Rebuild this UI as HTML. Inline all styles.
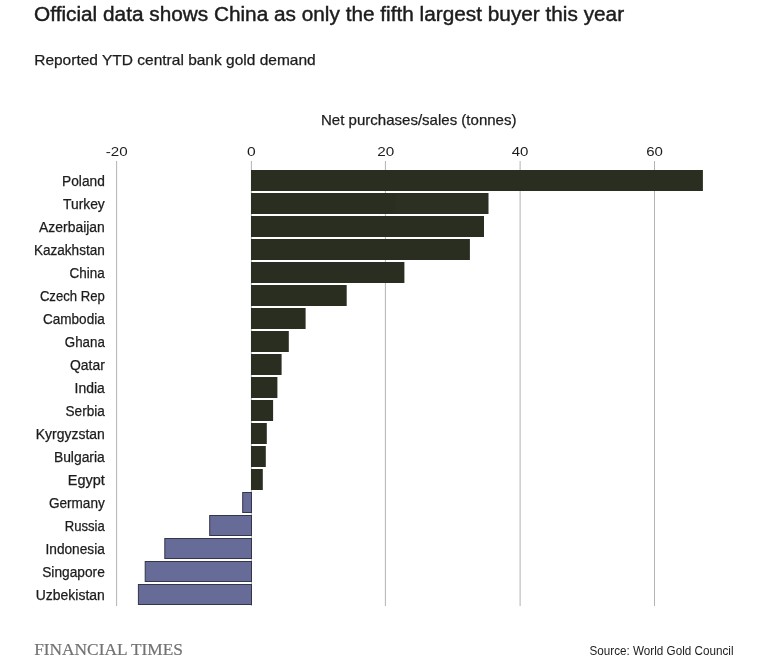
<!DOCTYPE html>
<html lang="en"><head><meta charset="utf-8"><title>Official data shows China as only the fifth largest buyer this year</title>
<style>
html,body{margin:0;padding:0;background:#fff;}
body{width:773px;height:664px;overflow:hidden;}
svg{display:block;font-family:"Liberation Sans",Arial,sans-serif;}
text.b{fill:#1c1c1c;stroke:#1c1c1c;stroke-width:0.25px;}
text.t{fill:#1c1c1c;stroke:none;}
.serif{font-family:"Liberation Serif","Times New Roman",serif;}
</style></head><body>
<svg width="773" height="664" viewBox="0 0 773 664">
<rect x="0" y="0" width="773" height="664" fill="#ffffff"/>
<text x="34.1" y="20.7" font-size="19.5" class="b" style="stroke-width:0.42px" transform="rotate(0.02 300 20)" textLength="590" lengthAdjust="spacingAndGlyphs">Official data shows China as only the fifth largest buyer this year</text>
<text x="34.2" y="64.8" font-size="14.5" class="b" textLength="281.5" lengthAdjust="spacingAndGlyphs">Reported YTD central bank gold demand</text>
<text x="321.0" y="125" font-size="14.5" class="b" textLength="195.5" lengthAdjust="spacingAndGlyphs">Net purchases/sales (tonnes)</text>
<rect x="116.1" y="161" width="1" height="445" fill="#b3b3b8"/>
<rect x="250.9" y="161" width="1" height="445" fill="#b3b3b8"/>
<rect x="384.9" y="161" width="1" height="445" fill="#b3b3b8"/>
<rect x="519.6" y="161" width="1" height="445" fill="#b3b3b8"/>
<rect x="654.0" y="161" width="1" height="445" fill="#b3b3b8"/>
<text x="105.75" y="156.4" font-size="13.7" class="t" textLength="21.9" lengthAdjust="spacingAndGlyphs">-20</text>
<text x="246.95" y="156.4" font-size="13.7" class="t" textLength="8.7" lengthAdjust="spacingAndGlyphs">0</text>
<text x="377.35" y="156.4" font-size="13.7" class="t" textLength="17.0" lengthAdjust="spacingAndGlyphs">20</text>
<text x="511.75" y="156.4" font-size="13.7" class="t" textLength="16.7" lengthAdjust="spacingAndGlyphs">40</text>
<text x="646.25" y="156.4" font-size="13.7" class="t" textLength="16.7" lengthAdjust="spacingAndGlyphs">60</text>
<text x="62.1" y="186.0" font-size="13.8" class="b" textLength="42.7" lengthAdjust="spacingAndGlyphs">Poland</text>
<rect x="251" y="170" width="451.9" height="21" fill="#292e20"/>
<text x="63.0" y="209.0" font-size="13.8" class="b" textLength="41.8" lengthAdjust="spacingAndGlyphs">Turkey</text>
<rect x="251" y="193" width="237.5" height="21" fill="#292e20"/>
<text x="39.1" y="232.0" font-size="13.8" class="b" textLength="65.7" lengthAdjust="spacingAndGlyphs">Azerbaijan</text>
<rect x="251" y="216" width="233.0" height="21" fill="#292e20"/>
<text x="33.9" y="255.0" font-size="13.8" class="b" textLength="70.9" lengthAdjust="spacingAndGlyphs">Kazakhstan</text>
<rect x="251" y="239" width="218.9" height="21" fill="#292e20"/>
<text x="69.6" y="278.0" font-size="13.8" class="b" textLength="35.2" lengthAdjust="spacingAndGlyphs">China</text>
<rect x="251" y="262" width="153.4" height="21" fill="#292e20"/>
<text x="39.9" y="301.0" font-size="13.8" class="b" textLength="64.9" lengthAdjust="spacingAndGlyphs">Czech Rep</text>
<rect x="251" y="285" width="95.7" height="21" fill="#292e20"/>
<text x="42.9" y="324.0" font-size="13.8" class="b" textLength="61.9" lengthAdjust="spacingAndGlyphs">Cambodia</text>
<rect x="251" y="308" width="54.6" height="21" fill="#292e20"/>
<text x="64.8" y="347.0" font-size="13.8" class="b" textLength="40.0" lengthAdjust="spacingAndGlyphs">Ghana</text>
<rect x="251" y="331" width="37.8" height="21" fill="#292e20"/>
<text x="70.0" y="370.0" font-size="13.8" class="b" textLength="34.8" lengthAdjust="spacingAndGlyphs">Qatar</text>
<rect x="251" y="354" width="30.6" height="21" fill="#292e20"/>
<text x="74.6" y="393.0" font-size="13.8" class="b" textLength="30.2" lengthAdjust="spacingAndGlyphs">India</text>
<rect x="251" y="377" width="26.4" height="21" fill="#292e20"/>
<text x="65.5" y="416.0" font-size="13.8" class="b" textLength="39.3" lengthAdjust="spacingAndGlyphs">Serbia</text>
<rect x="251" y="400" width="22.1" height="21" fill="#292e20"/>
<text x="35.8" y="439.0" font-size="13.8" class="b" textLength="69.0" lengthAdjust="spacingAndGlyphs">Kyrgyzstan</text>
<rect x="251" y="423" width="15.8" height="21" fill="#292e20"/>
<text x="53.9" y="462.0" font-size="13.8" class="b" textLength="50.9" lengthAdjust="spacingAndGlyphs">Bulgaria</text>
<rect x="251" y="446" width="14.8" height="21" fill="#292e20"/>
<text x="67.8" y="485.0" font-size="13.8" class="b" textLength="37.0" lengthAdjust="spacingAndGlyphs">Egypt</text>
<rect x="251" y="469" width="11.8" height="21" fill="#292e20"/>
<text x="48.9" y="508.0" font-size="13.8" class="b" textLength="55.9" lengthAdjust="spacingAndGlyphs">Germany</text>
<rect x="242.7" y="492.5" width="8.8" height="20" fill="#676b97" stroke="#33354a" stroke-width="1"/>
<text x="64.8" y="531.0" font-size="13.8" class="b" textLength="40.0" lengthAdjust="spacingAndGlyphs">Russia</text>
<rect x="209.7" y="515.5" width="41.8" height="20" fill="#676b97" stroke="#33354a" stroke-width="1"/>
<text x="45.5" y="554.0" font-size="13.8" class="b" textLength="59.3" lengthAdjust="spacingAndGlyphs">Indonesia</text>
<rect x="164.8" y="538.5" width="86.7" height="20" fill="#676b97" stroke="#33354a" stroke-width="1"/>
<text x="42.2" y="577.0" font-size="13.8" class="b" textLength="62.6" lengthAdjust="spacingAndGlyphs">Singapore</text>
<rect x="145.2" y="561.5" width="106.3" height="20" fill="#676b97" stroke="#33354a" stroke-width="1"/>
<text x="35.8" y="600.0" font-size="13.8" class="b" textLength="69.0" lengthAdjust="spacingAndGlyphs">Uzbekistan</text>
<rect x="138.4" y="584.5" width="113.1" height="20" fill="#676b97" stroke="#33354a" stroke-width="1"/>
<rect x="395.5" y="194" width="92" height="19" fill="#2c3023"/>
<text class="serif" x="34.2" y="654.6" font-size="16.6" fill="#727276" stroke="#727276" stroke-width="0.2" textLength="148.7" lengthAdjust="spacingAndGlyphs">FINANCIAL TIMES</text>
<text x="589.5" y="654.9" font-size="12.6" class="t" textLength="144" lengthAdjust="spacingAndGlyphs">Source: World Gold Council</text>
</svg>
</body></html>
